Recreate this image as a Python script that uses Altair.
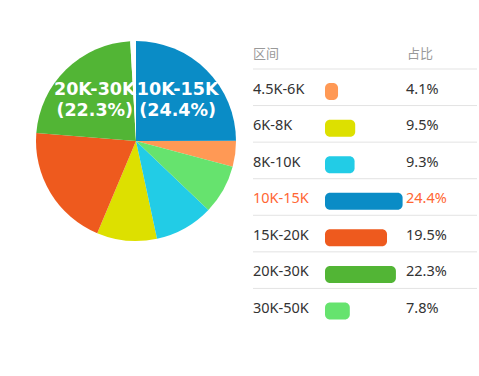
import altair as alt
import pandas as pd

# ---- data ----
categories = ["4.5K-6K", "6K-8K", "8K-10K", "10K-15K", "15K-20K", "20K-30K", "30K-50K"]
pct = [4.1, 9.5, 9.3, 24.4, 19.5, 22.3, 7.8]
colors = ["#FF9955", "#DDE000", "#22CCE6", "#0A8CC6", "#EE5A1E", "#52B535", "#66E36E"]
pie_order = [1, 4, 3, 0, 5, 6, 2]
pie_labelled = ["10K-15K", "20K-30K"]
gap_value = 0.9
highlight = "10K-15K"
header_labels = ["区间", "占比"]

FONT = "Noto Sans, Noto Sans CJK SC, sans-serif"

# ---- pie ----
pie_df = pd.DataFrame({
    "cat": categories + ["gap"],
    "val": pct + [gap_value],
    "ord": pie_order + [len(categories)],
})
pie_df["label"] = [
    (f"{c}\n({v}%)" if c in pie_labelled else "") for c, v in zip(pie_df["cat"], pie_df["val"])
]

color_scale = alt.Scale(domain=categories + ["gap"], range=colors + ["#FFFFFF"])

pie_base = alt.Chart(pie_df).encode(
    theta=alt.Theta("val:Q", stack=True),
    order=alt.Order("ord:Q"),
    detail="cat:N",
)
arcs = pie_base.mark_arc(radius=100).encode(
    color=alt.Color("cat:N", scale=color_scale, legend=None)
)
pie_text = pie_base.mark_text(
    radius=59, font="DejaVu Sans", fontWeight="bold", fontSize=17.5,
    lineBreak="\n", lineHeight=21, color="white", baseline="middle", align="center", dy=-9
).encode(text="label:N")
pie = alt.layer(arcs, pie_text).properties(width=200, height=200)

# ---- table ----
tab_df = pd.DataFrame({
    "cat": categories,
    "pct": pct,
    "row": list(range(1, len(categories) + 1)),
})
tab_df["pct_label"] = [f"{v}%" for v in pct]

yscale = alt.Scale(domain=[0, 7], range=[7, 273], nice=False, zero=False)
Y = alt.Y("row:Q", scale=yscale, axis=None)

rule_df = pd.DataFrame({"row": list(range(0, len(categories)))})
rules = alt.Chart(rule_df).mark_rule(color="#E3E3E3", yOffset=16).encode(
    y=Y, x=alt.value(0), x2=alt.value(224)
)

header_df = pd.DataFrame({"row": [0, 0], "txt": header_labels})
hdr1 = alt.Chart(header_df.iloc[[0]]).mark_text(
    align="left", baseline="middle", font=FONT, fontSize=13, color="#999999", yOffset=1
).encode(y=Y, x=alt.value(0), text="txt:N")
hdr2 = alt.Chart(header_df.iloc[[1]]).mark_text(
    align="left", baseline="middle", font=FONT, fontSize=13, color="#999999", yOffset=1
).encode(y=Y, x=alt.value(154), text="txt:N")

txt_color = alt.condition(alt.datum.cat == highlight, alt.value("#FF6633"), alt.value("#333333"))

cat_text = alt.Chart(tab_df).mark_text(
    align="left", baseline="middle", font=FONT, fontSize=14.5
).encode(y=Y, x=alt.value(0), text="cat:N", color=txt_color)

pct_text = alt.Chart(tab_df).mark_text(
    align="left", baseline="middle", font=FONT, fontSize=14.5
).encode(y=Y, x=alt.value(153), text="pct_label:N", color=txt_color)

bars = alt.Chart(tab_df).mark_bar(height=17, cornerRadius=5, yOffset=2).encode(
    y=Y,
    x=alt.X("pct:Q", scale=alt.Scale(domain=[0, 100], range=[72, 390]), axis=None),
    x2=alt.datum(0),
    color=alt.Color("cat:N", scale=color_scale, legend=None),
)

table = alt.layer(rules, hdr1, hdr2, cat_text, bars, pct_text).properties(width=224, height=288)

chart = alt.hconcat(pie, table, spacing=16).properties(
    padding={"left": 36, "top": 41, "right": 0, "bottom": 0}
).configure_view(strokeWidth=0).resolve_scale(color="shared")

chart.save("out.html", embed_options={"renderer": "svg", "actions": False})
